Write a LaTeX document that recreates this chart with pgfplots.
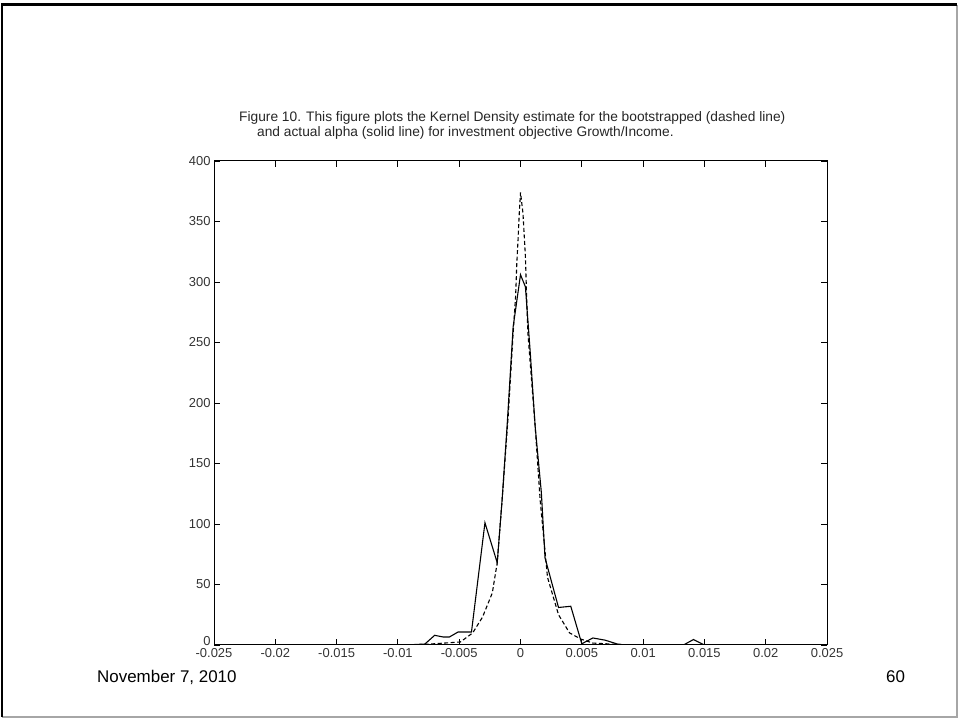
\documentclass[border=0pt]{standalone}
\usepackage{fontspec}
\setmainfont{Liberation Sans}
\usepackage{pgfplots}
\pgfplotsset{compat=1.18}

\begin{document}
\begin{tikzpicture}[x=1bp,y=1bp]
\useasboundingbox (0,0) rectangle (959,721);
% slide frame
\draw[gray!70, line width=2bp] (957,716) -- (957,4) -- (2,4);
\draw[black, line width=2bp] (2,4) -- (2,716);
\draw[black, line width=3bp] (1,716) -- (957,716);

% figure caption
\node[anchor=west, inner sep=0pt, font=\fontsize{13.8}{15}\selectfont, text=black!85] at (239,603)
  {Figure 10. This figure plots the Kernel Density estimate for the bootstrapped (dashed line)};
\node[anchor=west, inner sep=0pt, font=\fontsize{13.8}{15}\selectfont, text=black!85] at (257,588)
  {and actual alpha (solid line) for investment objective Growth/Income.};

% footer
\node[anchor=west, inner sep=0pt, font=\fontsize{17}{20}\selectfont] at (97,44) {November 7, 2010};
\node[anchor=west, inner sep=0pt, font=\fontsize{17}{20}\selectfont] at (886,44) {60};

\begin{axis}[
    at={(214bp,76bp)}, anchor=south west,
    scale only axis, width=613bp, height=484bp,
    xmin=-0.025, xmax=0.025, ymin=0, ymax=400,
    scaled x ticks=false,
    xtick={-0.025,-0.02,-0.015,-0.01,-0.005,0,0.005,0.01,0.015,0.02,0.025},
    xticklabels={-0.025,-0.02,-0.015,-0.01,-0.005,0,0.005,0.01,0.015,0.02,0.025},
    ytick={0,50,100,150,200,250,300,350,400},
    yticklabels={\raisebox{8bp}{0},50,100,150,200,250,300,350,400},
    tick align=inside, major tick length=6bp,
    ticklabel style={font=\fontsize{13}{15}\selectfont, text=black!80},
    axis line style={line width=1bp},
    every tick/.style={black, line width=0.9bp},
    clip=true,
]
% bootstrapped alpha (dashed)
\addplot[black, line width=1.1bp, dash pattern=on 4bp off 2.5bp] coordinates {
  (-0.0094,0) (-0.0078,0.5) (-0.0049,2.5) (-0.0039,10) (-0.0031,23)
  (-0.0023,43) (-0.0019,68) (-0.0015,120) (-0.0010,190) (-0.0006,258)
  (-0.0004,288) (-0.0003,316) (-0.0002,335) (-0.0001,357) (0,374)
  (0.0002,357) (0.0004,321) (0.0005,288) (0.0006,258) (0.0012,180)
  (0.0016,120) (0.0022,56) (0.0031,25) (0.0040,10) (0.0049,5)
  (0.0059,1.6) (0.0070,1) (0.0089,0)
};
% actual alpha (solid)
\addplot[black, line width=1.1bp] coordinates {
  (-0.0100,0) (-0.0094,0) (-0.0078,0.8) (-0.0070,8) (-0.0063,6.6)
  (-0.0058,6.6) (-0.0051,10.7) (-0.0040,10.7) (-0.0029,101) (-0.0019,68)
  (-0.0015,120) (-0.0011,180) (-0.0006,263) (0,306) (0.0004,296)
  (0.0008,241) (0.0012,180) (0.0017,126) (0.0020,72) (0.0031,31)
  (0.0041,32) (0.0050,1) (0.0059,5.8) (0.0069,4) (0.0079,0.8)
  (0.0085,0) (0.0133,0) (0.0141,4.5) (0.0150,0)
};
\end{axis}
\end{tikzpicture}
\end{document}
